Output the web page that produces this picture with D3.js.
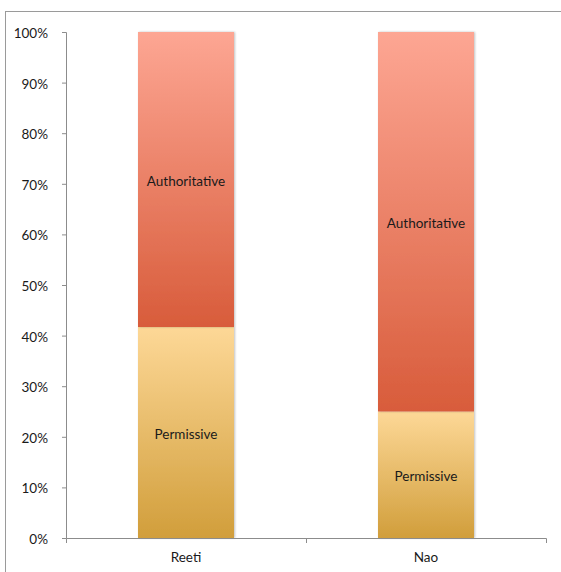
<!DOCTYPE html>
<html><head><meta charset="utf-8">
<script src="https://cdn.jsdelivr.net/npm/d3@7"></script>
<style>body{margin:0;background:#fff}svg{display:block}text{font-family:Lato,"Open Sans","Liberation Sans",sans-serif;fill:#1a1a1a}</style>
</head><body>
<svg id="c" width="561" height="572"></svg>
<script>
const categories = ["Reeti", "Nao"];
const permissive = [41.7, 25];
const authoritative = [58.3, 75];
const seriesNames = ["Permissive", "Authoritative"];
const yTicks = [0,10,20,30,40,50,60,70,80,90,100];

(function(){
const svg = d3.select("#c");
const defs = svg.append("defs");
const grads = {
  Permissive: ["#FDD897", "#D19E3B"],
  Authoritative: ["#FDA693", "#D85C3B"]
};
Object.entries(grads).forEach(([k,[a,b]])=>{
  const g = defs.append("linearGradient").attr("id","g"+k).attr("x1",0).attr("y1",0).attr("x2",0).attr("y2",1);
  g.append("stop").attr("offset","0%").attr("stop-color",a);
  g.append("stop").attr("offset","100%").attr("stop-color",b);
});
const f = defs.append("filter").attr("id","sh").attr("x","-10%").attr("y","-5%").attr("width","120%").attr("height","110%");
f.append("feGaussianBlur").attr("in","SourceAlpha").attr("stdDeviation",1.2);
f.append("feOffset").attr("dx",0.5).attr("dy",0).attr("result","b");
f.append("feComponentTransfer").append("feFuncA").attr("type","linear").attr("slope",0.25);
const fm = f.append("feMerge"); fm.append("feMergeNode"); fm.append("feMergeNode").attr("in","SourceGraphic");

// frame
svg.append("rect").attr("x",5.5).attr("y",11.5).attr("width",600).attr("height",600)
  .attr("fill","none").attr("stroke","#9a9a9a").attr("stroke-width",1);

const pl=66, pr=546, pt=32, pb=538;
const fs = 13.5;
const x = d3.scaleBand().domain(categories).range([pl,pr]).paddingInner(0.6).paddingOuter(0.3);
const xb = d3.scaleBand().domain(categories).range([pl,pr]);
const y = d3.scaleLinear().domain([0,100]).range([pb,pt]);

const stack = d3.stack().keys(seriesNames)(categories.map((c,i)=>({cat:c, Permissive:permissive[i], Authoritative:authoritative[i]})));

const g = svg.append("g");
stack.forEach(layer=>{
  g.selectAll(null).data(layer).enter().append("rect")
    .attr("x",d=>x(d.data.cat)).attr("width",x.bandwidth())
    .attr("y",d=>y(d[1])).attr("height",d=>y(d[0])-y(d[1]))
    .attr("fill","url(#g"+layer.key+")").attr("filter","url(#sh)");
});
stack.forEach(layer=>{
  g.selectAll(null).data(layer).enter().append("text")
    .attr("x",d=>x(d.data.cat)+x.bandwidth()/2).attr("y",d=>y((d[0]+d[1])/2))
    .attr("dy","0.45em").attr("text-anchor","middle").attr("font-size",fs)
    .text(layer.key);
});

// y axis
const ya = svg.append("g").attr("transform",`translate(${pl},0)`)
  .call(d3.axisLeft(y).tickValues(yTicks).tickFormat(d=>d+"%").tickSize(4).tickPadding(14));
ya.select(".domain").attr("stroke","#8c8c8c").attr("d",`M-4,${pt}.5H0.5V${pb}.5H-4`);
ya.selectAll(".tick line").attr("stroke","#8c8c8c");
ya.selectAll(".tick text").attr("font-size",fs).attr("fill","#1a1a1a").attr("dy","0.4em");

// x axis
const xa = svg.append("g").attr("transform",`translate(0,${pb})`);
xa.append("path").attr("d",`M${pl}.5,0.5H${pr}.5`).attr("stroke","#8c8c8c").attr("fill","none");
const tickPos = [pl, ...categories.map(c=>xb(c)+xb.bandwidth())];
xa.selectAll(null).data(tickPos).enter().append("line")
  .attr("x1",d=>d+0.5).attr("x2",d=>d+0.5).attr("y1",0.5).attr("y2",5).attr("stroke","#8c8c8c");
xa.selectAll(null).data(categories).enter().append("text")
  .attr("x",d=>xb(d)+xb.bandwidth()/2).attr("y",24).attr("text-anchor","middle").attr("font-size",fs)
  .text(d=>d);
})();
</script>
</body></html>
